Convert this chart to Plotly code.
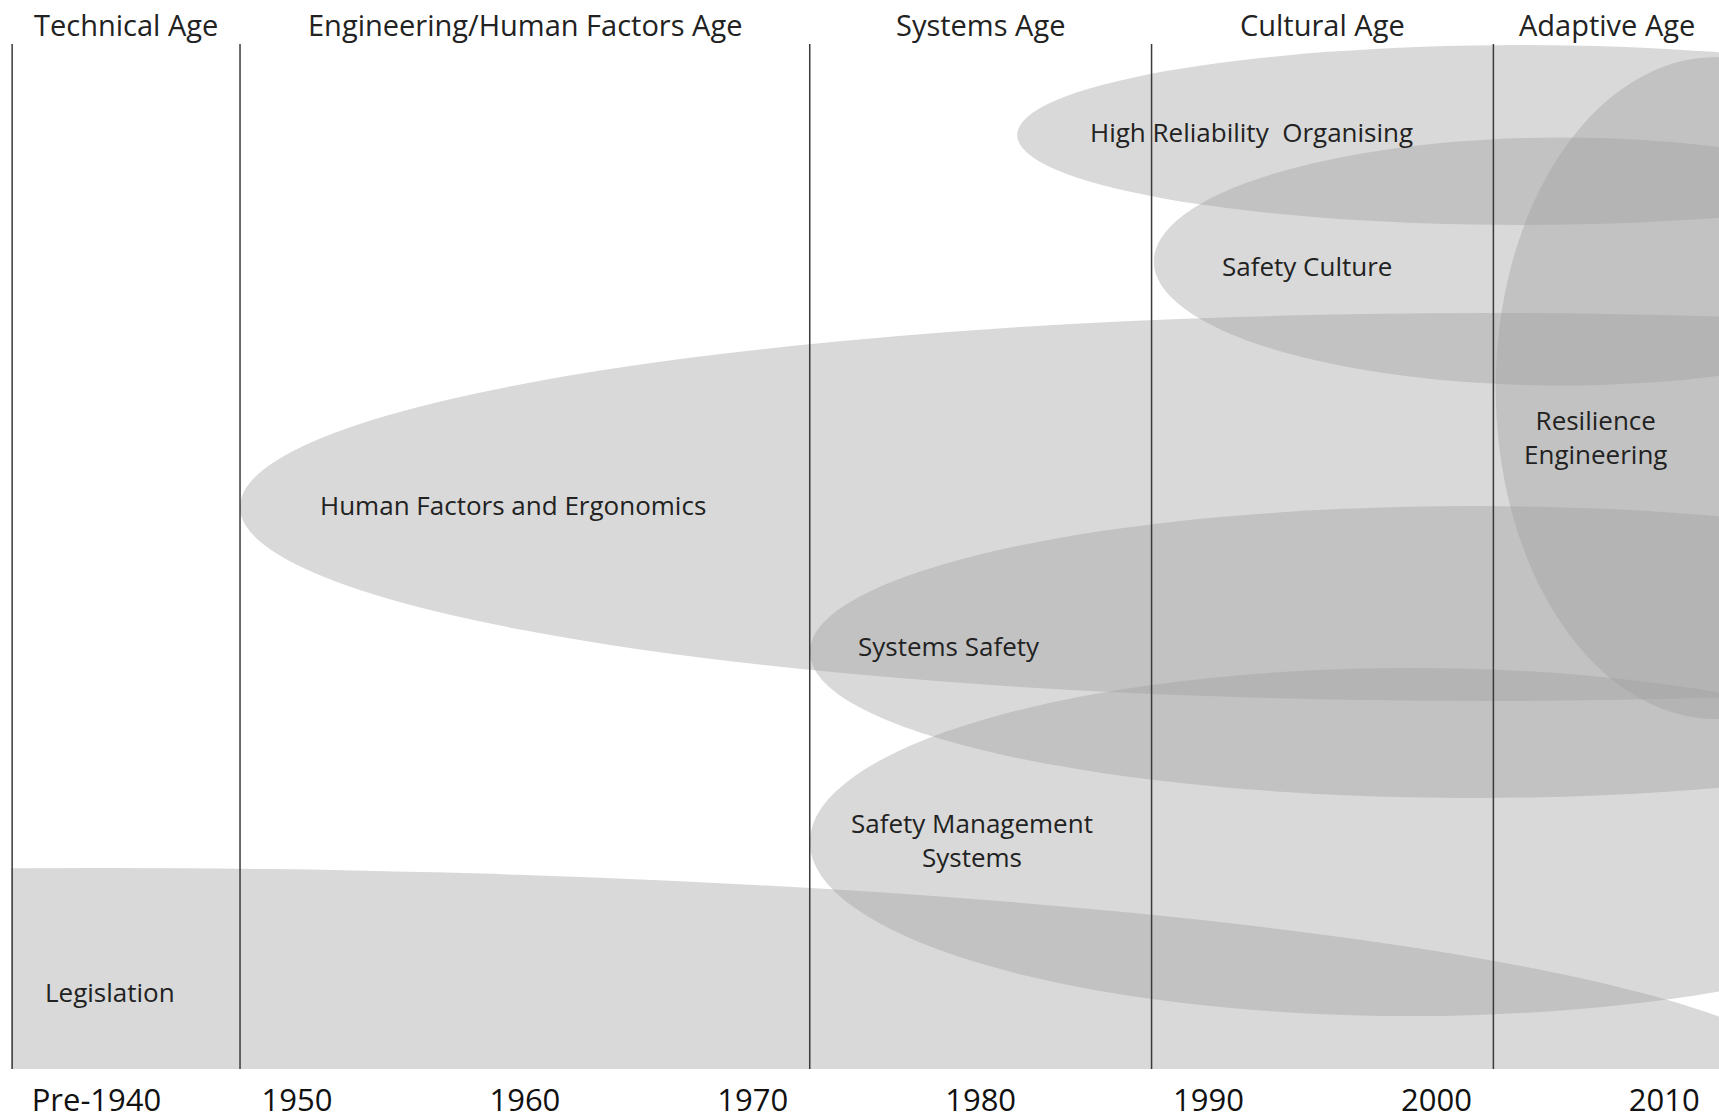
import plotly.graph_objects as go

# ---- data (years on x, lane units on y) ----
ages = ["Technical Age", "Engineering/Human Factors Age", "Systems Age", "Cultural Age", "Adaptive Age"]
age_starts = [1937.5, 1947.5, 1972.5, 1987.5, 2002.5]
age_ends = [1947.5, 1972.5, 1987.5, 2002.5, 2012.5]

tick_years = [1941.2, 1950, 1960, 1970, 1980, 1990, 2000, 2010]
tick_labels = ["Pre-1940", "1950", "1960", "1970", "1980", "1990", "2000", "2010"]

topics = ["Legislation", "Human Factors and Ergonomics", "Systems Safety",
          "Safety Management Systems", "High Reliability Organising",
          "Safety Culture", "Resilience Engineering"]
topic_x_start = [1865.9, 1947.5, 1972.5, 1972.5, 1981.6, 1987.6, 2002.6]
topic_x_end = [2016.9, 2056.9, 2030.8, 2025.3, 2025.8, 2023.4, 2022.0]
topic_y_low = [-2.49, 3.68, 2.71, 0.53, 8.44, 6.835, 3.50]
topic_y_high = [2.01, 7.56, 5.63, 4.01, 10.24, 9.315, 10.12]

label_text = ["Legislation", "Human Factors and Ergonomics", "Systems Safety",
              "Safety Management<br>Systems", "High Reliability\u00a0 Organising",
              "Safety Culture", "Resilience<br>Engineering"]
label_x = [1938.85, 1959.5, 1978.6, 1979.6, 1991.9, 1994.3, 2007.0]
label_y = [0.77, 5.64, 4.23, 2.29, 9.37, 8.03, 6.32]
label_anchor = ["left", "center", "center", "center", "center", "center", "center"]

Y_TOP = 10.25

fig = go.Figure()
fig.add_trace(go.Scatter(x=[1950], y=[5], mode="markers", marker=dict(opacity=0),
                         hoverinfo="skip", showlegend=False))

shapes = []
for x0, x1, y0, y1 in zip(topic_x_start, topic_x_end, topic_y_low, topic_y_high):
    shapes.append(dict(type="circle", xref="x", yref="y", x0=x0, x1=x1, y0=y0, y1=y1,
                       fillcolor="rgba(160,160,160,0.4)", line=dict(width=0), layer="above"))
for xb in age_starts:
    shapes.append(dict(type="line", xref="x", yref="y", x0=xb, x1=xb, y0=0, y1=Y_TOP,
                       line=dict(color="#3a3a3a", width=1.5), layer="above"))

annotations = []
for t, x, y, anc in zip(label_text, label_x, label_y, label_anchor):
    annotations.append(dict(text=t, x=x, y=y, xref="x", yref="y", showarrow=False,
                            xanchor=anc, yanchor="middle", align="center",
                            font=dict(family="Open Sans", size=26, color="#222222")))
for name, s, e in zip(ages, age_starts, age_ends):
    annotations.append(dict(text=name, x=(s + e) / 2, y=1.0195, xref="x", yref="paper",
                            showarrow=False, xanchor="center", yanchor="middle",
                            font=dict(family="Open Sans", size=29, color="#222222")))

fig.update_layout(
    width=1719, height=1120,
    margin=dict(l=11, r=0, t=44, b=51),
    paper_bgcolor="white", plot_bgcolor="white",
    shapes=shapes, annotations=annotations,
    xaxis=dict(range=[1937.45, 2012.4], showgrid=False, zeroline=False, showline=False,
               tickvals=tick_years, ticktext=tick_labels, ticks="",
               tickfont=dict(family="Open Sans", size=31, color="#111111"),
               ticklabelstandoff=10, fixedrange=True),
    yaxis=dict(range=[0, Y_TOP], showgrid=False, zeroline=False, showline=False,
               showticklabels=False, fixedrange=True),
    showlegend=False,
)

fig.write_html("out.html", config={"displayModeBar": False},
               post_script="document.body.style.margin='0';document.body.style.overflow='hidden';")
